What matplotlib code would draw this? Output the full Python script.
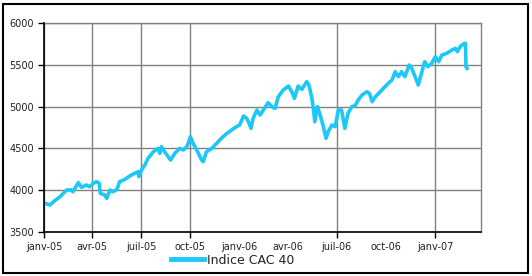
import matplotlib
matplotlib.use("Agg")
import matplotlib.pyplot as plt
import matplotlib.dates as mdates
from matplotlib.patches import Rectangle
import pandas as pd

dates = [
    "2005-01-03", "2005-01-12", "2005-01-21", "2005-01-31", "2005-02-12", "2005-02-21",
    "2005-02-24", "2005-03-06", "2005-03-12", "2005-03-21", "2005-03-27", "2005-04-03",
    "2005-04-09", "2005-04-14", "2005-04-16", "2005-04-24", "2005-04-28", "2005-05-04",
    "2005-05-10", "2005-05-17", "2005-05-22", "2005-06-01", "2005-06-10", "2005-06-19",
    "2005-06-26", "2005-06-27", "2005-07-02", "2005-07-08", "2005-07-14", "2005-07-24",
    "2005-08-02", "2005-08-05", "2005-08-08", "2005-08-14", "2005-08-25", "2005-09-02",
    "2005-09-11", "2005-09-18", "2005-09-24", "2005-09-27", "2005-10-01", "2005-10-06",
    "2005-10-16", "2005-10-22", "2005-10-25", "2005-10-31", "2005-11-10", "2005-11-19",
    "2005-11-28", "2005-12-08", "2005-12-17", "2005-12-26", "2006-01-01", "2006-01-08",
    "2006-01-14", "2006-01-19", "2006-01-22", "2006-01-26", "2006-02-02", "2006-02-08",
    "2006-02-14", "2006-02-23", "2006-03-02", "2006-03-08", "2006-03-14", "2006-03-23",
    "2006-04-02", "2006-04-08", "2006-04-13", "2006-04-20", "2006-04-27", "2006-05-06",
    "2006-05-10", "2006-05-15", "2006-05-18", "2006-05-21", "2006-05-26", "2006-05-31",
    "2006-06-06", "2006-06-11", "2006-06-15", "2006-06-22", "2006-06-28", "2006-07-04",
    "2006-07-10", "2006-07-16", "2006-07-22", "2006-07-29", "2006-08-04", "2006-08-10",
    "2006-08-17", "2006-08-26", "2006-08-31", "2006-09-05", "2006-09-11", "2006-09-20",
    "2006-09-29", "2006-10-05", "2006-10-12", "2006-10-18", "2006-10-24", "2006-10-30",
    "2006-11-05", "2006-11-13", "2006-11-18", "2006-11-24", "2006-11-30", "2006-12-06",
    "2006-12-12", "2006-12-18", "2006-12-25", "2007-01-01", "2007-01-07", "2007-01-13",
    "2007-01-22", "2007-02-01", "2007-02-07", "2007-02-11", "2007-02-16", "2007-02-22",
    "2007-02-26", "2007-02-27", "2007-03-01",
]
cac40 = [
    3843, 3823, 3875, 3922, 4002, 4002,
    3982, 4090, 4035, 4062, 4042, 4082,
    4102, 4082, 3963, 3943, 3903, 4002,
    3982, 4010, 4102, 4130, 4170, 4202,
    4222, 4162, 4242, 4301, 4381, 4460,
    4500, 4441, 4520, 4460, 4361, 4441,
    4500, 4481, 4520, 4561, 4640, 4561,
    4441, 4361, 4341, 4460, 4500, 4561,
    4621, 4680, 4720, 4760, 4780, 4887,
    4860, 4790, 4740, 4860, 4959, 4899,
    4959, 5047, 4999, 4979, 5118, 5198,
    5246, 5178, 5099, 5246, 5207, 5298,
    5258, 5118, 4999, 4819, 4999, 4899,
    4760, 4621, 4700, 4780, 4760, 4959,
    4959, 4740, 4920, 4999, 5010, 5079,
    5138, 5178, 5158, 5059, 5118, 5178,
    5238, 5278, 5318, 5417, 5358, 5417,
    5358, 5497, 5457, 5358, 5258, 5398,
    5537, 5477, 5517, 5597, 5537, 5617,
    5637, 5677, 5697, 5657, 5717, 5748,
    5757, 5477, 5457,
]
tick_labels = ["janv-05", "avr-05", "juil-05", "oct-05", "janv-06",
               "avr-06", "juil-06", "oct-06", "janv-07"]
label_dates = ["2005-01-01", "2005-04-01", "2005-07-01", "2005-10-01", "2006-01-01",
               "2006-04-01", "2006-07-01", "2006-10-01", "2007-01-01"]
grid_dates = ["2005-01-01", "2005-04-01", "2005-07-01", "2005-10-01",
              "2006-07-01", "2007-01-01"]
series_name = "Indice CAC 40"

x = pd.to_datetime(dates)
fig = plt.figure(figsize=(5.32, 2.76), dpi=100)
ax = fig.add_axes([44/532, 1-232/276, (481-44)/532, (232-23)/276])

line_color = "#1CC8F8"
ax.plot(x, cac40, color=line_color, lw=2.6, solid_joinstyle="round",
        label=series_name, zorder=3)

ax.set_xlim(pd.Timestamp("2005-01-01"), pd.Timestamp("2007-03-27"))
ax.set_ylim(3500, 6000)
ax.set_yticks(range(3500, 6001, 500))

# labels at every quarter (no tick marks)
ld = pd.to_datetime(label_dates)
ax.set_xticks(ld)
ax.set_xticklabels(tick_labels)
ax.tick_params(axis="x", length=0, pad=7, labelsize=7, labelcolor="#222222")

# vertical gridlines and tick marks only at selected dates
gd = pd.to_datetime(grid_dates)
for d in gd:
    ax.axvline(d, color="#808080", lw=1.0, zorder=1)
sec = ax.secondary_xaxis("bottom")
sec.set_xticks(gd)
sec.set_xticklabels([""] * len(gd))
sec.tick_params(axis="x", length=4, width=1, color="black", direction="out")
sec.spines["bottom"].set_visible(False)

ax.grid(True, axis="y", color="#808080", lw=1.0)
ax.set_axisbelow(True)
ax.tick_params(axis="y", length=4, width=1, color="black", pad=3, labelsize=7,
               labelcolor="#222222")

for s in ["top", "right"]:
    ax.spines[s].set_color("#808080")
    ax.spines[s].set_linewidth(1.0)
for s in ["left", "bottom"]:
    ax.spines[s].set_color("black")
    ax.spines[s].set_linewidth(1.2)
    ax.spines[s].set_zorder(4)

leg = fig.legend(loc="center", bbox_to_anchor=(233/532, 1-260/276), frameon=False,
                 fontsize=9, handlelength=2.6, handletextpad=0.3,
                 labelcolor="#222222")
for h in leg.get_lines():
    h.set_linewidth(3.5)

fig.patches.append(Rectangle((3/532, 3/276), (528-3)/532, (272-3)/276,
                             transform=fig.transFigure, fill=False,
                             edgecolor="black", lw=1.5))

fig.savefig("out.png", dpi=100)
